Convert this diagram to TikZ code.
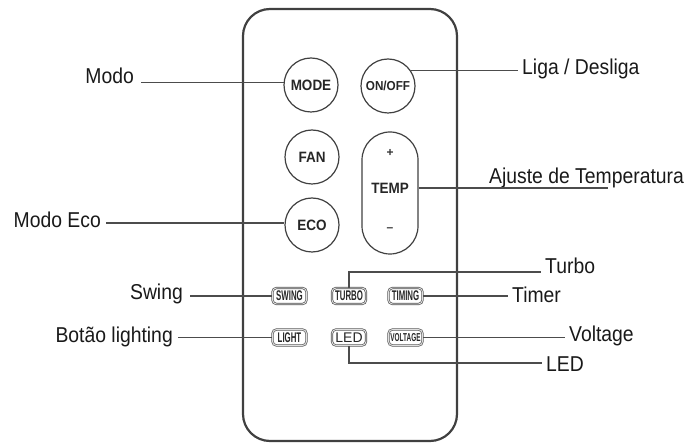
\documentclass[tikz,border=0pt]{standalone}
\usepackage{fontspec}
\setmainfont{Liberation Sans}
\newfontfamily\lblfont[FakeStretch=0.9]{Liberation Sans}
\newfontfamily\bigbtnfont[FakeStretch=0.9]{Liberation Sans}
\newfontfamily\smallbtnfont[FakeStretch=0.56]{Liberation Sans}
\begin{document}
\begin{tikzpicture}[x=1pt,y=-1pt,
  lbl/.style={inner sep=0pt, text=black!90, font=\lblfont\fontsize{21.5}{24}\selectfont},
  leader/.style={draw=black!70, line width=1.2pt},
  roundbtn/.style={circle, draw=black!75, line width=1.2pt, minimum size=54pt, inner sep=0pt,
    text=black!85, font=\bigbtnfont\bfseries\fontsize{15}{16}\selectfont},
  smallbtn/.style={rectangle, rounded corners=4pt, draw=black!65, line width=0.7pt,
    double=gray!25, double distance=0.9pt, minimum width=34pt, minimum height=16pt, inner sep=0pt,
    text=black!85, font=\smallbtnfont\bfseries\fontsize{14}{15}\selectfont},
  body/.style={draw=black!75, line width=2.2pt, rounded corners=27pt}
]
\useasboundingbox (0,0) rectangle (696,443);
% remote body
\draw[body] (243,9) rectangle (457,441);

% round buttons
\node[roundbtn] (mode) at (311,85) {MODE};
\node[roundbtn, font=\bigbtnfont\bfseries\fontsize{13}{14}\selectfont] (onoff) at (388,86) {ON/OFF};
\node[roundbtn] (fan) at (312,157) {FAN};
\node[roundbtn] (eco) at (312,225) {ECO};
\node[rectangle, rounded corners=28pt, draw=black!75, line width=1.2pt,
  minimum width=56pt, minimum height=122pt, inner sep=0pt] (temp) at (390,193) {};
\node[inner sep=0pt, text=black!85, font=\bigbtnfont\bfseries\fontsize{15}{16}\selectfont] (temptxt) at (390,188) {TEMP};
\node[inner sep=0pt, text=black!80, font=\bfseries\fontsize{12}{13}\selectfont] (tplus) at (390,153) {+};
\node[inner sep=0pt, text=black!80, font=\bfseries\fontsize{12}{13}\selectfont] (tminus) at (390,230) {--};

% small buttons
\node[smallbtn] (swing) at (289.5,296) {SWING};
\node[smallbtn] (turbo) at (349,296) {TURBO};
\node[smallbtn] (timing) at (405.5,296) {TIMING};
\node[smallbtn] (light) at (289.5,337.5) {LIGHT};
\node[smallbtn, font=\fontsize{14}{15}\selectfont] (led) at (349,337.5) {LED};
\node[smallbtn, font=\smallbtnfont\bfseries\fontsize{11.5}{12}\selectfont] (voltage) at (405.5,337.5) {VOLTAGE};

% left labels
\node[lbl, anchor=base east] (lmodo) at (134,84) {Modo};
\node[lbl, anchor=base east] (leco) at (101,228) {Modo Eco};
\node[lbl, anchor=base east] (lswing) at (183,300) {Swing};
\node[lbl, anchor=base east] (llight) at (173,343) {Botão lighting};

% right labels
\node[lbl, anchor=base west] (lliga) at (522,75) {Liga / Desliga};
\node[lbl, anchor=base west] (lajuste) at (489,184) {Ajuste de Temperatura};
\node[lbl, anchor=base west] (lturbo) at (545,274) {Turbo};
\node[lbl, anchor=base west] (ltimer) at (512,303) {Timer};
\node[lbl, anchor=base west] (lvolt) at (569,342) {Voltage};
\node[lbl, anchor=base west] (lled) at (546,372) {LED};

\coordinate (ajend) at (608,188);
\coordinate (tbend) at (541,272);
\coordinate (ledend) at (542,363);

% leaders
\draw[leader] ([xshift=7pt]lmodo.east |- mode.174) -- (mode.174);
\draw[leader] ([xshift=5pt]leco.east |- eco.176) -- (eco.176);
\draw[leader] ([xshift=7pt]lswing.east |- swing.west) -- (swing.west);
\draw[leader] ([xshift=5pt]llight.east |- light.west) -- (light.west);
\draw[leader] (onoff.34) -- ([xshift=-4pt]lliga.west |- onoff.34);
\draw[leader] (temp.10) -- (ajend |- temp.10);
\draw[leader] (turbo.north) |- (tbend);
\draw[leader] (timing.east) -- ([xshift=-4pt]ltimer.west |- timing.east);
\draw[leader] (voltage.east) -- ([xshift=-4pt]lvolt.west |- voltage.east);
\draw[leader] (led.south) |- (ledend);
\end{tikzpicture}
\end{document}
